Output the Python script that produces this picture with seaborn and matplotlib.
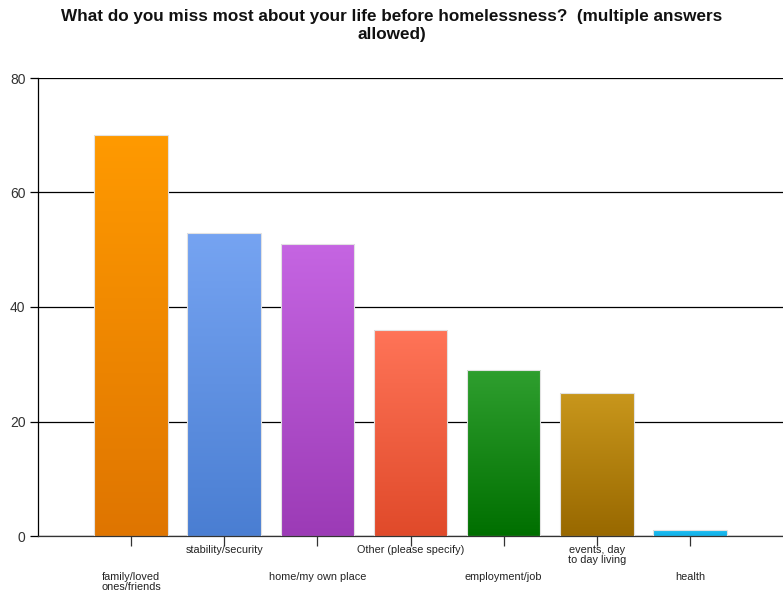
import numpy as np
import pandas as pd
import matplotlib
matplotlib.use("Agg")
import matplotlib.pyplot as plt
from matplotlib.colors import LinearSegmentedColormap
import seaborn as sns

# --- dados ---
categorias = ["family/loved\nones/friends", "stability/security", "home/my own place",
              "Other (please specify)", "employment/job", "events, day\nto day living", "health"]
respostas = [70, 53, 51, 36, 29, 25, 1]

# cores (topo claro -> base escura)
cores_topo = ["#FF9A00", "#76A4F2", "#C565E2", "#FF7458", "#2F9F2F", "#C9971C", "#1CBDF2"]
cores_base = ["#DF7500", "#4A7ED2", "#9C3BB6", "#E04A2A", "#006F00", "#986800", "#10B0E8"]

sns.set_theme(style="white")
plt.rcParams['font.family'] = ['Liberation Sans', 'DejaVu Sans']

df = pd.DataFrame({"cat": categorias, "n": respostas})

fig = plt.figure(figsize=(7.83, 5.92), dpi=100)
ax = fig.add_axes([38 / 783, 56 / 592, 745 / 783, 458 / 592])

sns.barplot(data=df, x="cat", y="n", ax=ax, width=0.79, color="#cccccc",
            edgecolor="#e2e2e2", linewidth=0.8, zorder=2)

# gradiente vertical em cada barra
for patch, c_top, c_bot in zip(ax.patches, cores_topo, cores_base):
    x0, y0 = patch.get_x(), patch.get_y()
    w, h = patch.get_width(), patch.get_height()
    cmap = LinearSegmentedColormap.from_list("g", [c_bot, c_top])
    grad = np.linspace(0, 1, 256).reshape(-1, 1)
    im = ax.imshow(grad, cmap=cmap, aspect="auto", origin="lower",
                   extent=[x0, x0 + w, y0, y0 + h], zorder=2.5)
    im.set_clip_path(patch)
    patch.set_facecolor("none")
    patch.set_zorder(3)

ax.set_xlim(-1, 7)
ax.set_ylim(0, 80)
ax.set_yticks([0, 20, 40, 60, 80])
ax.yaxis.grid(True, color="black", linewidth=0.9)
ax.set_axisbelow(True)
ax.tick_params(axis="y", length=6, width=0.9, color="black", labelsize=10,
               labelcolor="#333333", left=True, pad=3)
ax.tick_params(axis="x", length=7, width=0.9, color="#333333", bottom=True)
ax.set_xticks(range(len(categorias)))
ax.set_xticklabels([])
ax.set_xlabel("")
ax.set_ylabel("")

for s in ["top", "right"]:
    ax.spines[s].set_visible(False)
ax.spines["left"].set_color("black")
ax.spines["left"].set_linewidth(0.9)
ax.spines["bottom"].set_color("#333333")
ax.spines["bottom"].set_linewidth(0.9)

# rótulos alternados em duas linhas
trans = ax.get_xaxis_transform()
for i, lab in enumerate(categorias):
    y = -0.0785 if i % 2 == 0 else -0.0195
    ax.text(i, y, lab, transform=trans, ha="center", va="top", fontsize=7.8,
            color="#222222", linespacing=1.0, clip_on=False)

fig.suptitle("What do you miss most about your life before homelessness?  (multiple answers\nallowed)",
             fontsize=12.3, fontweight="bold", color="#111111", x=0.5, y=0.985, linespacing=1.3)

fig.savefig("out.png", dpi=100)
plt.close(fig)
